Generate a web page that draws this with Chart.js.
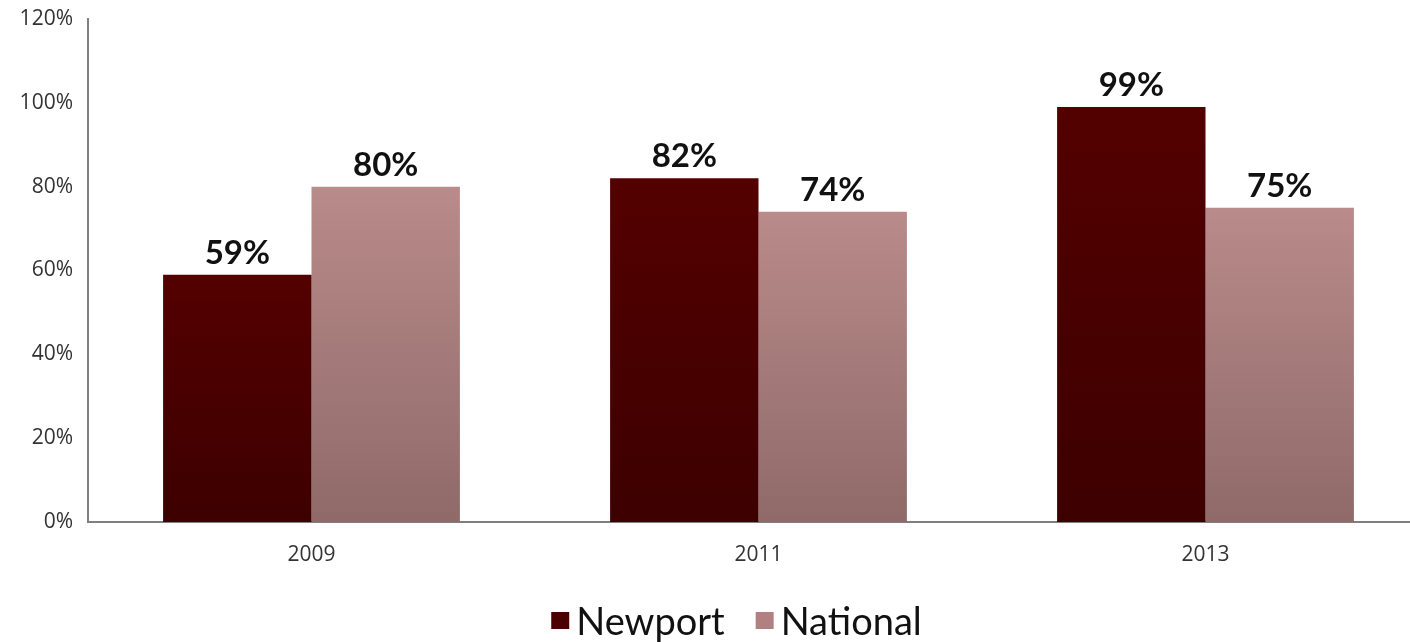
<!DOCTYPE html>
<html>
<head>
<meta charset="utf-8">
<script src="https://cdn.jsdelivr.net/npm/chart.js@4"></script>
<style>
    html, body { margin: 0; padding: 0; background: #fff; overflow: hidden; }
    #wrap { width: 1410px; height: 642px; overflow: hidden; }
</style>
</head>
<body>
<div id="wrap"><canvas id="rateChart" width="1431" height="642"></canvas></div>
<script>
const years = ['2009', '2011', '2013'];
const newport = [59, 82, 99];
const national = [80, 74, 75];
const yTicks = [0, 20, 40, 60, 80, 100, 120];

const FONT = 'Lato, "Open Sans", sans-serif';
const TICK_FONT = '"Open Sans", Lato, sans-serif';

// vertical gradient over each bar, from its top down to the axis
function barGradient(topColor, bottomColor) {
    return function (ctx) {
        const chart = ctx.chart;
        const area = chart.chartArea;
        if (!area || ctx.parsed === undefined) return topColor;
        const y = chart.scales.y;
        const top = y.getPixelForValue(ctx.parsed.y);
        const bottom = y.getPixelForValue(0);
        const g = chart.ctx.createLinearGradient(0, top, 0, bottom);
        g.addColorStop(0, topColor);
        g.addColorStop(1, bottomColor);
        return g;
    };
}

// value labels above the bars
const valueLabels = {
    id: 'valueLabels',
    afterDatasetsDraw(chart) {
        const ctx = chart.ctx;
        ctx.save();
        ctx.font = 'bold 33px ' + FONT;
        ctx.fillStyle = '#111';
        ctx.textAlign = 'center';
        ctx.textBaseline = 'bottom';
        chart.data.datasets.forEach((ds, i) => {
            chart.getDatasetMeta(i).data.forEach((bar, j) => {
                ctx.fillText(ds.data[j] + '%', bar.x, bar.y - 5);
            });
        });
        ctx.restore();
    }
};

// legend row along the bottom
const bottomLegend = {
    id: 'bottomLegend',
    afterDraw(chart) {
        const ctx = chart.ctx;
        ctx.save();
        ctx.font = '38px ' + FONT;
        ctx.textBaseline = 'alphabetic';
        ctx.textAlign = 'left';
        const box = 18, gap = 7, spacing = 31;
        const items = chart.data.datasets.map(ds => ({ text: ds.label, color: ds.legendColor }));
        let total = 0;
        items.forEach((it, i) => {
            it.w = ctx.measureText(it.text).width;
            total += box + gap + it.w + (i ? spacing : 0);
        });
        let x = (chart.width - total) / 2 + 21;
        const baseline = 635;
        items.forEach(it => {
            ctx.fillStyle = it.color;
            ctx.fillRect(x, baseline - 23, box, box - 1);
            ctx.fillStyle = '#111';
            ctx.fillText(it.text, x + box + gap, baseline);
            x += box + gap + it.w + spacing;
        });
        ctx.restore();
    }
};

new Chart(document.getElementById('rateChart'), {
    type: 'bar',
    data: {
        labels: years,
        datasets: [
            {
                label: 'Newport',
                data: newport,
                backgroundColor: barGradient('#540000', '#3d0000'),
                legendColor: '#4a0000'
            },
            {
                label: 'National',
                data: national,
                backgroundColor: barGradient('#b98b8a', '#8f6a69'),
                legendColor: '#b08180'
            }
        ]
    },
    options: {
        responsive: false,
        animation: false,
        layout: { padding: { top: 19, right: 2, left: 0, bottom: 0 } },
        datasets: {
            bar: { categoryPercentage: 0.664, barPercentage: 1.0, borderWidth: 0 }
        },
        plugins: {
            legend: { display: false },
            tooltip: { enabled: false }
        },
        scales: {
            x: {
                grid: { display: false, drawTicks: false },
                border: { display: true, color: '#7f7f7f', width: 2 },
                ticks: { padding: 20, color: '#333', font: { family: TICK_FONT, size: 21 } },
                afterFit(scale) { scale.height = 120; }
            },
            y: {
                min: 0,
                max: 120,
                afterBuildTicks(scale) { scale.ticks = yTicks.map(v => ({ value: v })); },
                grid: { display: false, drawTicks: false },
                border: { display: true, color: '#7f7f7f', width: 2 },
                ticks: {
                    padding: 15,
                    color: '#333',
                    font: { family: TICK_FONT, size: 21 },
                    callback: v => v + '%'
                },
                afterFit(scale) {
                    scale.width = 88;
                    scale.paddingTop = 0;
                    scale.paddingBottom = 0;
                }
            }
        }
    },
    plugins: [valueLabels, bottomLegend]
});
</script>
</body>
</html>
